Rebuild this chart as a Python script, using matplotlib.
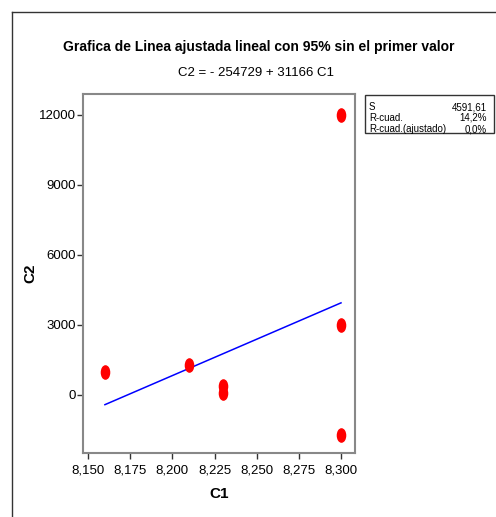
import numpy as np
import matplotlib
matplotlib.use('Agg')
import matplotlib.pyplot as plt
from matplotlib.path import Path
from matplotlib.lines import Line2D
from matplotlib.patches import Rectangle
from matplotlib.ticker import FuncFormatter

plt.rcParams['font.family'] = ['Liberation Sans Narrow', 'Liberation Sans', 'DejaVu Sans']

# datos
c1 = [8.16, 8.21, 8.23, 8.23, 8.30, 8.30, 8.30]
c2 = [1000, 1300, 400, 100, -1700, 3000, 12000]
b0 = -254729
b1 = 31166
stat_names = ['S', 'R-cuad.', 'R-cuad.(ajustado)']
stat_vals = ['4591,61', '14,2%', '0,0%']
xticks = [8.150, 8.175, 8.200, 8.225, 8.250, 8.275, 8.300]
yticks = [0, 3000, 6000, 9000, 12000]

# marcador eliptico (mas alto que ancho)
circ = Path.unit_circle()
ell = Path(circ.vertices * np.array([0.62, 1.0]), circ.codes)

fig = plt.figure(figsize=(4.96, 5.17), dpi=100)
ax = fig.add_axes([83/496, 1-453/517, 272/496, 359/517])

xl = np.array([min(c1), max(c1)])
ax.plot(xl, b0 + b1*xl, color='#0000ff', lw=1.1)
ax.plot(c1, c2, linestyle='none', marker=ell, markersize=9.5, color='#ff0000', mec='#ff0000')

ax.set_xlim(8.147, 8.3083)
ax.set_ylim(-2486, 12900)
ax.set_xticks(xticks)
ax.set_yticks(yticks)
ax.xaxis.set_major_formatter(FuncFormatter(lambda v, p: ('%.3f' % v).replace('.', ',')))
ax.yaxis.set_major_formatter(FuncFormatter(lambda v, p: '%d' % v))
ax.tick_params(direction='out', length=4, width=1, color='#333333', labelsize=9.5)
ax.tick_params(axis='x', pad=4)
ax.tick_params(axis='y', pad=1)
for s in ax.spines.values():
    s.set_color('#888888')
    s.set_linewidth(1.5)

ax.set_xlabel('C1', fontsize=11, fontweight='bold', labelpad=8)
ax.set_ylabel('C2', fontsize=11, fontweight='bold', labelpad=1)

fig.text(259/496, 1-47/517, 'Grafica de Linea ajustada lineal con 95% sin el primer valor',
         ha='center', va='center', fontsize=10, fontweight='bold')
fig.text(256/496, 1-73/517, 'C2 = - 254729 + 31166 C1', ha='center', va='center', fontsize=9.5)

# marco exterior
fig.add_artist(Line2D([12/496, 1], [1-12/517, 1-12/517], color='#333333', lw=1))
fig.add_artist(Line2D([12/496, 12/496], [0, 1-12/517], color='#333333', lw=1))

# cuadro de estadisticas
fig.add_artist(Rectangle((365/496, 1-133/517), 129/496, 38/517, transform=fig.transFigure,
                         fill=False, ec='#333333', lw=1))
for i in range(3):
    yy = 1 - (107 + 11*i)/517
    fig.text(369/496, yy, stat_names[i], ha='left', va='center', fontsize=7)
    fig.text(487/496, yy, stat_vals[i], ha='right', va='center', fontsize=7)

fig.savefig('out.png', dpi=100)
